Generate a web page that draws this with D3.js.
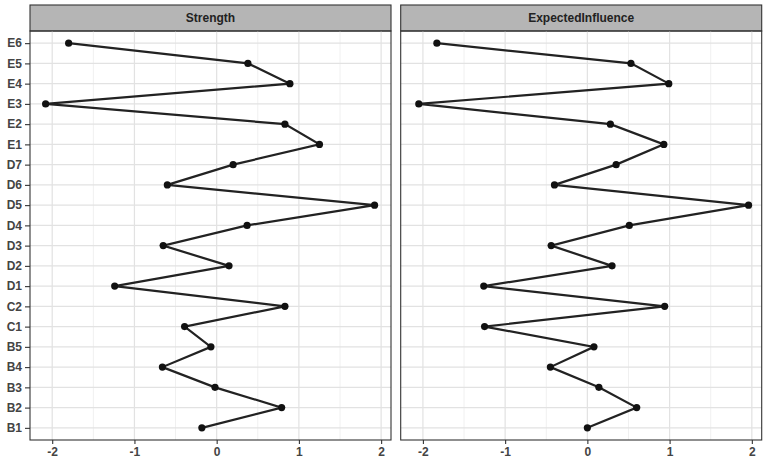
<!DOCTYPE html>
<html>
<head>
<meta charset="utf-8">
<script src="https://cdn.jsdelivr.net/npm/d3@7"></script>
<style>
  body { margin: 0; background: #fff; }
  svg text { font-family: "Liberation Sans", Arial, sans-serif; }
</style>
</head>
<body>
<svg id="chart" width="767" height="463"></svg>
<script>
// nodes, bottom to top
var nodes = ["B1","B2","B3","B4","B5","C1","C2","D1","D2","D3","D4","D5","D6","D7","E1","E2","E3","E4","E5","E6"];

var strength = [-0.18, 0.79, -0.02, -0.66, -0.07, -0.39, 0.83, -1.24, 0.15, -0.65,
                0.37, 1.92, -0.60, 0.20, 1.25, 0.83, -2.08, 0.89, 0.38, -1.80];

var expectedInfluence = [0.00, 0.60, 0.14, -0.45, 0.08, -1.25, 0.94, -1.26, 0.30, -0.44,
                         0.51, 1.96, -0.40, 0.35, 0.93, 0.28, -2.05, 0.99, 0.53, -1.83];

var panelNames = ["Strength", "ExpectedInfluence"];
var xTicks = [-2, -1, 0, 1, 2];
var xMinor = [-1.5, -0.5, 0.5, 1.5];
var xDomain = [-2.27, 2.12];

var svg = d3.select("#chart");

var plotTop = 31, plotBottom = 440, stripTop = 5,
    panelW = 361,
    panelX = [30, 400.7];

var y = d3.scalePoint()
    .domain(nodes)
    .range([plotBottom, plotTop])
    .padding(0.6);

var series = [strength, expectedInfluence];

panelNames.forEach(function(name, p) {
  var x = d3.scaleLinear().domain(xDomain).range([0, panelW]);
  var g = svg.append("g").attr("transform", "translate(" + panelX[p] + ",0)");

  // strip
  g.append("rect")
      .attr("x", 0).attr("y", stripTop)
      .attr("width", panelW).attr("height", plotTop - stripTop)
      .attr("fill", "#b5b5b5")
      .attr("stroke", "#333").attr("stroke-width", 1.1);
  g.append("text")
      .attr("x", panelW / 2).attr("y", (stripTop + plotTop) / 2)
      .attr("dy", "0.35em")
      .attr("text-anchor", "middle")
      .style("font-size", "12px")
      .style("font-weight", "bold")
      .attr("fill", "#222")
      .text(name);

  // grid
  g.selectAll(".minor")
    .data(xMinor)
    .enter().append("line")
      .attr("x1", function(d) { return x(d); }).attr("x2", function(d) { return x(d); })
      .attr("y1", plotTop).attr("y2", plotBottom)
      .attr("stroke", "#f0f0f0").attr("stroke-width", 1);
  g.selectAll(".major")
    .data(xTicks)
    .enter().append("line")
      .attr("x1", function(d) { return x(d); }).attr("x2", function(d) { return x(d); })
      .attr("y1", plotTop).attr("y2", plotBottom)
      .attr("stroke", "#e2e2e2").attr("stroke-width", 1.2);
  g.selectAll(".hgrid")
    .data(nodes)
    .enter().append("line")
      .attr("x1", 0).attr("x2", panelW)
      .attr("y1", function(d) { return y(d); }).attr("y2", function(d) { return y(d); })
      .attr("stroke", "#e2e2e2").attr("stroke-width", 1.2);

  // data
  var pts = nodes.map(function(n, i) { return {node: n, value: series[p][i]}; });
  var line = d3.line()
      .x(function(d) { return x(d.value); })
      .y(function(d) { return y(d.node); });

  g.append("path")
      .datum(pts)
      .attr("d", line)
      .attr("fill", "none")
      .attr("stroke", "#222")
      .attr("stroke-width", 2.2);

  g.selectAll(".pt")
    .data(pts)
    .enter().append("circle")
      .attr("cx", function(d) { return x(d.value); })
      .attr("cy", function(d) { return y(d.node); })
      .attr("r", 3.6)
      .attr("fill", "#111");

  // border
  g.append("rect")
      .attr("x", 0).attr("y", plotTop)
      .attr("width", panelW).attr("height", plotBottom - plotTop)
      .attr("fill", "none")
      .attr("stroke", "#333").attr("stroke-width", 1.1);

  // x axis
  var xAxis = d3.axisBottom(x).tickValues(xTicks).tickSize(4).tickPadding(3)
      .tickFormat(d3.format("d"));
  var ax = g.append("g")
      .attr("transform", "translate(0," + plotBottom + ")")
      .call(xAxis);
  ax.select(".domain").remove();
  ax.selectAll("line").attr("stroke", "#333").attr("stroke-width", 1.1);
  ax.selectAll("text")
      .style("font-size", "12px")
      .style("font-weight", "bold")
      .attr("fill", "#444")
      .text(function(d) { return d < 0 ? "-" + Math.abs(d) : d; });

  // y axis only on first panel
  if (p === 0) {
    var ay = g.append("g").call(d3.axisLeft(y).tickSize(5).tickPadding(3));
    ay.select(".domain").remove();
    ay.selectAll("line").attr("stroke", "#333").attr("stroke-width", 1.1);
    ay.selectAll("text")
        .style("font-size", "12px")
        .style("font-weight", "bold")
        .attr("fill", "#444");
  }
});
</script>
</body>
</html>
